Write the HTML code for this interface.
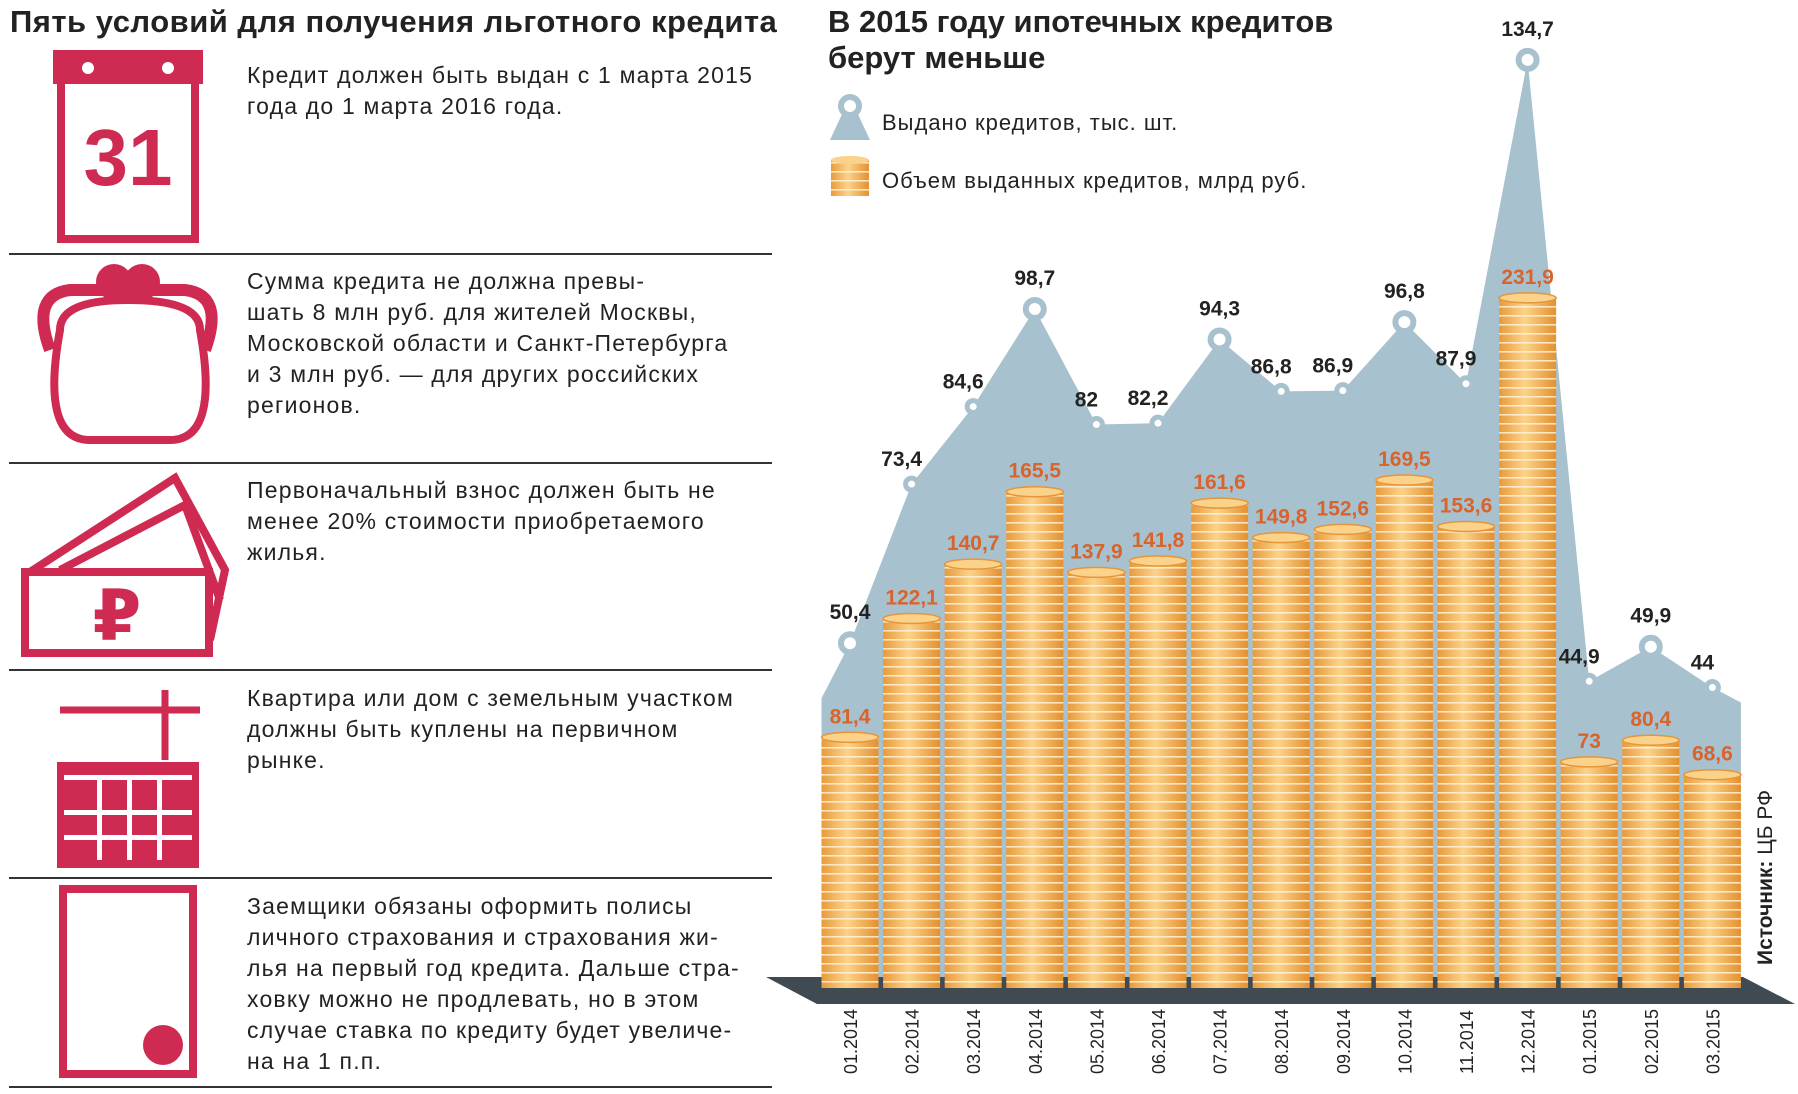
<!DOCTYPE html>
<html><head><meta charset="utf-8"><style>
body{margin:0;width:1798px;height:1094px;background:#fff;overflow:hidden;font-family:"Liberation Sans","DejaVu Sans",sans-serif;position:relative}
.t{position:absolute;color:#222;font-size:23px;line-height:31px;letter-spacing:1.2px;left:247px;white-space:nowrap}
.sep{position:absolute;left:9px;width:763px;height:2px;background:#333}
h1{position:absolute;margin:0;font-weight:bold;color:#222;white-space:nowrap}
</style></head><body>
<h1 style="left:10px;top:4px;font-size:31px;letter-spacing:0.5px">Пять условий для получения льготного кредита</h1>
<div class="t" style="top:60px">Кредит должен быть выдан с 1 марта 2015<br>года до 1 марта 2016 года.</div>
<div class="t" style="top:266px">Сумма кредита не должна превы-<br>шать 8 млн руб. для жителей Москвы,<br>Московской области и Санкт-Петербурга<br>и 3 млн руб. — для других российских<br>регионов.</div>
<div class="t" style="top:475px">Первоначальный взнос должен быть не<br>менее 20% стоимости приобретаемого<br>жилья.</div>
<div class="t" style="top:683px">Квартира или дом с земельным участком<br>должны быть куплены на первичном<br>рынке.</div>
<div class="t" style="top:891px">Заемщики обязаны оформить полисы<br>личного страхования и страхования жи-<br>лья на первый год кредита. Дальше стра-<br>ховку можно не продлевать, но в этом<br>случае ставка по кредиту будет увеличе-<br>на на 1 п.п.</div>
<div class="sep" style="top:253px"></div>
<div class="sep" style="top:462px"></div>
<div class="sep" style="top:669px"></div>
<div class="sep" style="top:877px"></div>
<div class="sep" style="top:1086px"></div>
<svg width="1798" height="1094" style="position:absolute;left:0;top:0">
<g fill="none" stroke="#cf2a52" stroke-width="8">
<g><rect x="61" y="58" width="134" height="181"/><rect x="57" y="54" width="142" height="26" fill="#cf2a52"/><circle cx="88" cy="68" r="6" fill="#fff" stroke="none"/><circle cx="168" cy="68" r="6" fill="#fff" stroke="none"/>
<text x="128" y="185" text-anchor="middle" font-size="80" font-weight="bold" fill="#cf2a52" stroke="none" font-family="Liberation Sans">31</text></g>
<g><path d="M50 350 Q30 295 70 290 L185 290 Q225 295 205 350" stroke-width="12"/><path d="M60 330 Q40 440 90 440 L170 440 Q220 440 200 330 Q200 300 128 300 Q60 300 60 330Z"/><circle cx="114" cy="282" r="14" fill="#cf2a52"/><circle cx="142" cy="282" r="14" fill="#cf2a52"/></g>
<g><path d="M30 572 L175 478 L225 570 L210 640"/><path d="M60 570 L185 505 L220 600"/><rect x="25" y="572" width="184" height="81" fill="#fff"/>
<text x="117" y="640" text-anchor="middle" font-size="70" font-weight="bold" fill="#cf2a52" stroke="none">₽</text></g>
<g><path d="M60 710 L200 710 M165 690 L165 760" stroke-width="7"/><rect x="61" y="766" width="134" height="98" fill="#cf2a52"/><g fill="#fff" stroke="none"><rect x="64" y="775" width="128" height="5"/><rect x="64" y="810" width="128" height="5"/><rect x="64" y="835" width="128" height="5"/><rect x="97" y="780" width="5" height="80"/><rect x="127" y="780" width="5" height="80"/><rect x="157" y="780" width="5" height="80"/></g></g>
<g><rect x="63" y="889" width="130" height="185"/><circle cx="163" cy="1045" r="20" fill="#cf2a52" stroke="none"/></g>
</g></svg>
<h1 style="left:828px;top:4px;line-height:36px;font-size:31px">В 2015 году ипотечных кредитов<br>берут меньше</h1>
<svg id="c" width="1798" height="1094" style="position:absolute;left:0;top:0">
<defs>
<linearGradient id="g" x1="0" x2="1"><stop offset="0" stop-color="#e89a3c"/><stop offset="0.45" stop-color="#fcd38a"/><stop offset="1" stop-color="#e3902f"/></linearGradient>
<pattern id="st" width="10" height="9" patternUnits="userSpaceOnUse"><rect width="10" height="1.6" fill="#fff5e0" opacity="0.8"/></pattern>
</defs>
</svg>
<div style="position:absolute;left:1754px;top:965px;transform:rotate(-90deg);transform-origin:0 0;font-size:21px;white-space:nowrap;color:#222"><b>Источник:</b> ЦБ РФ</div>
<script>
const cats=["01.2014","02.2014","03.2014","04.2014","05.2014","06.2014","07.2014","08.2014","09.2014","10.2014","11.2014","12.2014","01.2015","02.2015","03.2015"];
const counts=[50.4,73.4,84.6,98.7,82,82.2,94.3,86.8,86.9,96.8,87.9,134.7,44.9,49.9,44];
const volumes=[81.4,122.1,140.7,165.5,137.9,141.8,161.6,149.8,152.6,169.5,153.6,231.9,73,80.4,68.6];
const svg=document.getElementById('c'),NS='http://www.w3.org/2000/svg';
const X=i=>850+i*61.6, bw=57;
const YA=v=>992-v*6.92, YB=v=>975-v*2.92;
const fmt=v=>String(v).replace('.',',');
function mk(t,a,p){const e=document.createElementNS(NS,t);for(const k in a)e.setAttribute(k,a[k]);(p||svg).appendChild(e);return e;}
let d=`M${X(0)-bw/2} 990 L${X(0)-bw/2} ${YA(counts[0])+55}`;
counts.forEach((v,i)=>d+=` L${X(i)} ${YA(v)}`);
d+=` L${X(cats.length-1)+bw/2} ${YA(counts[cats.length-1])+15} L${X(cats.length-1)+bw/2} 990Z`;
const area=mk('path',{d,fill:'#a8c1ce'});


const pl=mk('polygon',{points:'766,977 1743,977 1795,1004 817,1004',fill:'#3f4a52'});


volumes.forEach((v,i)=>{
 const g=mk('g',{});
 
 
 const x=X(i)-bw/2,y=YB(v),h=988-y;
 mk('rect',{x,y,width:bw,height:h,fill:'url(#g)'},g);
 mk('rect',{x,y,width:bw,height:h,fill:'url(#st)'},g);
 mk('ellipse',{cx:X(i),cy:y,rx:bw/2,ry:5,fill:'#fbd28a',stroke:'#e5963a','stroke-width':1.5},g);
 const t=mk('text',{x:X(i),y:y-14,'text-anchor':'middle','font-size':21,'font-weight':'bold',fill:'#d8642c'});
 t.textContent=fmt(v);
 
 
 const c=mk('text',{transform:`translate(${X(i)+7},1074) rotate(-90)`,'font-size':18,fill:'#222'});
 c.textContent=cats[i];
 
 
});
counts.forEach((v,i)=>{
 const big=[0,3,6,9,11,13].includes(i);
 const m=mk('circle',{cx:X(i),cy:YA(v),r:big?9:6,fill:'#fff',stroke:'#a8c1ce','stroke-width':big?6:5});
 
 
 const t=mk('text',{x:X(i)-(big?0:10),y:YA(v)-(big?24:18),'text-anchor':'middle','font-size':21,'font-weight':'bold',fill:'#222'});
 t.textContent=fmt(v);
 
 
});
const lg=mk('g',{});


mk('path',{d:'M830 140 L844 110 L856 110 L870 140Z',fill:'#a8c1ce'},lg);
mk('circle',{cx:850,cy:106,r:9,fill:'#fff',stroke:'#a8c1ce','stroke-width':6},lg);
const l1=mk('text',{x:882,y:130,'font-size':22,fill:'#222','letter-spacing':1},lg);l1.textContent='Выдано кредитов, тыс. шт.';
mk('rect',{x:831,y:160,width:38,height:36,fill:'url(#g)'},lg);
mk('rect',{x:831,y:160,width:38,height:36,fill:'url(#st)'},lg);
mk('ellipse',{cx:850,cy:160,rx:19,ry:4,fill:'#fbd28a'},lg);
const l2=mk('text',{x:882,y:188,'font-size':22,fill:'#222','letter-spacing':1},lg);l2.textContent='Объем выданных кредитов, млрд руб.';
</script>
</body></html>
